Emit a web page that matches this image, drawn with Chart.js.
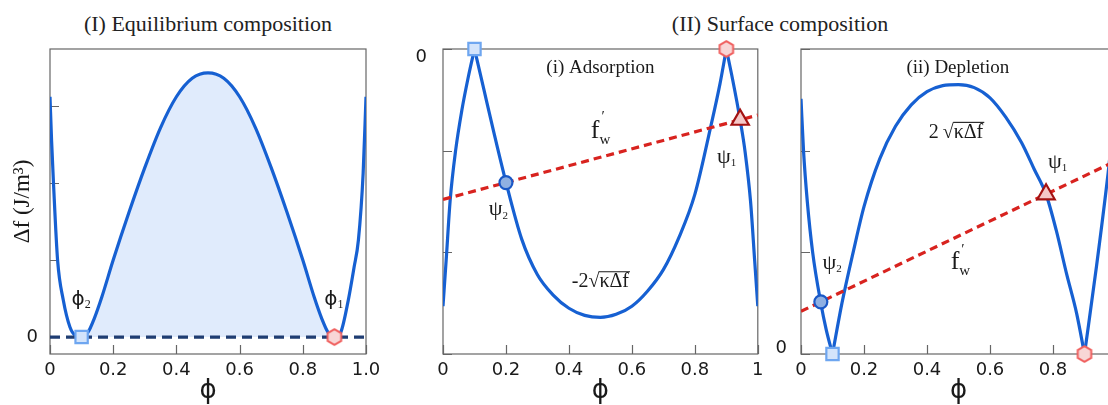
<!DOCTYPE html>
<html>
<head>
<meta charset="utf-8">
<script src="https://cdn.jsdelivr.net/npm/chart.js@4.4.0/dist/chart.umd.min.js"></script>
<style>
  html, body { margin: 0; padding: 0; background: #fff; width: 1108px; height: 405px; overflow: hidden; position: relative; }
  canvas { position: absolute; top: 0; }
  .title { position: absolute; top: 11px; font: 22px "Liberation Serif", serif; color: #222; white-space: nowrap; transform: translateX(-50%); }
</style>
</head>
<body>
<div class="title" style="left:208px">(I) Equilibrium composition</div>
<div class="title" style="left:780px">(II) Surface composition</div>
<canvas id="eq" style="left:0" width="380" height="405"></canvas>
<canvas id="ads" style="left:390px" width="380" height="405"></canvas>
<canvas id="dep" style="left:770px" width="360" height="405"></canvas>
<script>
// tick values and labels
var phiTicks = [0, 0.2, 0.4, 0.6, 0.8, 1.0];
var eqTickLabels = ['0', '0.2', '0.4', '0.6', '0.8', '1.0'];
var surfTickLabels = ['0', '0.2', '0.4', '0.6', '0.8', '1'];
var eqYTicks = [0, 1, 2, 3];
var adsYTicks = [-3, -2, -1, 0];
var depYTicks = [0, 1, 2, 3];

// (I) bulk free energy
var eqPhi = [0, 0.005, 0.011, 0.024, 0.042, 0.063, 0.08, 0.1, 0.12, 0.14, 0.164, 0.2, 0.25, 0.3, 0.35, 0.4, 0.45, 0.5,
             0.55, 0.6, 0.65, 0.7, 0.75, 0.8, 0.836, 0.86, 0.88, 0.9, 0.92, 0.944, 0.962, 0.976, 0.991, 1.0];
var eqDf  = [3.12, 2.55, 2.0, 1.0, 0.48, 0.13, 0.02, 0, 0.06, 0.24, 0.52, 1.0, 1.62, 2.2, 2.72, 3.12, 3.36, 3.43,
             3.36, 3.12, 2.72, 2.2, 1.62, 1.0, 0.52, 0.24, 0.06, 0, 0.06, 0.48, 0.9, 1.26, 2.13, 3.12];
var eqZero = [0, 0];
var eqPoints = [0.1, 0.9];

// (II)(i) adsorption: -2 sqrt(k df), three branches
var adsPhiL = [0, 0.01, 0.023, 0.04, 0.06, 0.08, 0.1];
var adsValL = [-2.53, -2.08, -1.48, -1.0, -0.6, -0.28, 0];
var adsPhiM = [0.1, 0.13, 0.16, 0.2, 0.25, 0.3, 0.35, 0.4, 0.45, 0.5, 0.55, 0.6, 0.65, 0.7, 0.75, 0.8, 0.85, 0.88, 0.9];
var adsValM = [0, -0.4, -0.8, -1.31, -1.87, -2.22, -2.42, -2.55, -2.62, -2.64, -2.61, -2.53, -2.38, -2.17, -1.85, -1.43, -0.77, -0.34, 0];
var adsPhiR = [0.9, 0.92, 0.944, 0.96, 0.977, 0.99, 1.0];
var adsValR = [0, -0.3, -0.7, -1.02, -1.5, -2.08, -2.53];
var fwPhi = [0, 1];
var adsFw = [-1.48, -0.65];
var adsPsi1 = [0.944, -0.696];
var adsPsi2 = [0.2, -1.314];

// (II)(ii) depletion: 2 sqrt(k df)
var depPhiL = [0, 0.008, 0.02, 0.037, 0.063, 0.08, 0.1];
var depValL = [2.51, 2.0, 1.5, 1.0, 0.5, 0.24, 0];
var depPhiM = [0.1, 0.13, 0.167, 0.2, 0.25, 0.3, 0.35, 0.4, 0.45, 0.5, 0.55, 0.6, 0.65, 0.7, 0.74, 0.778, 0.81, 0.843, 0.875, 0.9];
var depValM = [0, 0.5, 1.02, 1.45, 1.92, 2.24, 2.45, 2.58, 2.64, 2.65, 2.62, 2.52, 2.33, 2.08, 1.82, 1.57, 1.22, 0.79, 0.4, 0];
var depPhiR = [0.9, 0.938, 0.975, 1.0];
var depValR = [0, 0.86, 1.78, 2.5];
var depFw = [0.42, 1.9];
var depPsi1 = [0.778, 1.571];
var depPsi2 = [0.063, 0.513];

var BLUE = '#1660d2', RED = '#d8231f', NAVY = '#1f3d72';
var SERIF = '"Liberation Serif", serif';

Chart.defaults.font.family = '"DejaVu Sans", sans-serif';
Chart.defaults.color = '#1a1a1a';

function pts(xs, ys) {
  return xs.map(function (x, i) { return { x: x, y: ys[i] }; });
}

function hexagon(r, fill, stroke) {
  var c = document.createElement('canvas');
  c.width = c.height = Math.ceil(2 * r + 4);
  var g = c.getContext('2d'), m = c.width / 2;
  g.beginPath();
  for (var k = 0; k < 6; k++) {
    var a = -Math.PI / 2 + k * Math.PI / 3;
    g.lineTo(m + r * Math.cos(a), m + r * Math.sin(a));
  }
  g.closePath();
  g.fillStyle = fill; g.fill();
  g.lineWidth = 2; g.strokeStyle = stroke; g.stroke();
  return c;
}
var HEX = hexagon(7.8, '#f8d6d6', '#f0605f');

function curve(xs, ys) {
  return { data: pts(xs, ys), borderColor: BLUE, borderWidth: 3.2, pointRadius: 0,
           cubicInterpolationMode: 'monotone', fill: false, order: 3 };
}
function dashed(xs, ys, color, dash) {
  return { data: pts(xs, ys), borderColor: color, borderWidth: 3.2, borderDash: dash,
           pointRadius: 0, fill: false, order: 2 };
}
function marker(x, y, style, r, fill, stroke) {
  return { data: [{ x: x, y: y }], showLine: false, pointStyle: style, pointRadius: r,
           pointBackgroundColor: fill, pointBorderColor: stroke, pointBorderWidth: 2.2,
           clip: false, order: 1 };
}

// frame and inward tick marks
var frame = {
  id: 'frame',
  beforeDatasetsDraw: function (chart) {
    var ctx = chart.ctx, a = chart.chartArea, sx = chart.scales.x, sy = chart.scales.y;
    ctx.save();
    ctx.strokeStyle = '#666'; ctx.lineWidth = 1.2;
    ctx.strokeRect(a.left, a.top, a.right - a.left, a.bottom - a.top);
    ctx.beginPath();
    sx.ticks.forEach(function (t) {
      var p = Math.round(sx.getPixelForValue(t.value)) + 0.5;
      ctx.moveTo(p, a.bottom); ctx.lineTo(p, a.bottom - 9);
    });
    sy.ticks.forEach(function (t) {
      var p = Math.round(sy.getPixelForValue(t.value)) + 0.5;
      ctx.moveTo(a.left, p); ctx.lineTo(a.left + 9, p);
    });
    ctx.stroke();
    ctx.restore();
  }
};

// text notes placed through the scales
function drawNote(ctx, px, py, n) {
  ctx.save();
  ctx.fillStyle = '#1a1a1a';
  ctx.textBaseline = 'middle';
  if (n.kind === 'text') {
    ctx.font = n.font; ctx.textAlign = 'center';
    ctx.fillText(n.text, px, py);
  } else if (n.kind === 'sym') {
    ctx.font = n.font; ctx.textAlign = 'center';
    ctx.fillText(n.text, px, py);
    var w = ctx.measureText(n.text).width;
    ctx.textAlign = 'left';
    ctx.font = n.small;
    if (n.sub) ctx.fillText(n.sub, px + w / 2, py + n.subDy);
    if (n.sup) ctx.fillText(n.sup, px + w / 2 + 2, py + n.supDy);
  } else if (n.kind === 'root') {
    ctx.font = n.font; ctx.textAlign = 'left';
    var head = n.head + '\u221A';
    var wh = ctx.measureText(head).width, wr = ctx.measureText(n.body).width;
    var x0 = px - (wh + wr) / 2;
    ctx.fillText(head, x0, py);
    ctx.fillText(n.body, x0 + wh, py);
    ctx.strokeStyle = '#1a1a1a'; ctx.lineWidth = 1.1;
    ctx.beginPath();
    ctx.moveTo(x0 + wh - 0.5, py - n.bar); ctx.lineTo(x0 + wh + wr + 1, py - n.bar);
    ctx.stroke();
  }
  ctx.restore();
}
var notes = {
  id: 'notes',
  afterDatasetsDraw: function (chart, args, opts) {
    var sx = chart.scales.x, sy = chart.scales.y;
    (opts.items || []).forEach(function (n) {
      drawNote(chart.ctx, sx.getPixelForValue(n.at[0]), sy.getPixelForValue(n.at[1]), n);
    });
  }
};

function makeChart(id, datasets, o) {
  return new Chart(document.getElementById(id), {
    type: 'line',
    data: { datasets: datasets },
    plugins: [frame, notes],
    options: {
      responsive: false, animation: false, devicePixelRatio: 1,
      layout: { padding: { top: 49, right: o.padRight, left: 0, bottom: 0 } },
      plugins: { legend: { display: false }, tooltip: { enabled: false }, notes: { items: o.notes } },
      scales: {
        x: {
          type: 'linear', min: 0, max: 1,
          grid: { display: false, drawTicks: false }, border: { display: false },
          afterBuildTicks: function (s) { s.ticks = phiTicks.map(function (v) { return { value: v }; }); },
          afterFit: function (s) { s.height = 51; s.paddingLeft = 0; s.paddingRight = 0; },
          ticks: { padding: 6, font: { size: 18 }, color: '#1a1a1a',
                   callback: function (v, i) { return o.xLabels[i]; } },
          title: { display: true, text: '\u03D5', font: { size: 26 }, padding: { top: 0, bottom: -2 } }
        },
        y: {
          type: 'linear', min: o.yMin, max: o.yMax,
          grid: { display: false, drawTicks: false }, border: { display: false },
          afterBuildTicks: function (s) { s.ticks = o.yTicks.map(function (v) { return { value: v }; }); },
          afterFit: function (s) { s.width = o.yWidth; s.paddingTop = 0; s.paddingBottom = 0; },
          ticks: { padding: o.yPad, labelOffset: o.yLabelOffset, font: { size: 18 }, color: '#1a1a1a',
                   callback: function (v) { return v === 0 ? '0' : ''; } },
          title: o.yTitle ? { display: true, text: o.yTitle, font: { family: SERIF, size: 23 }, padding: { top: 9, bottom: 0 } } : { display: false }
        }
      }
    }
  });
}

var eqFill = curve(eqPhi.filter(function (p) { return p >= 0.1 && p <= 0.9; }),
                   eqDf.filter(function (v, i) { return eqPhi[i] >= 0.1 && eqPhi[i] <= 0.9; }));
eqFill.borderWidth = 0; eqFill.borderColor = 'rgba(0,0,0,0)';
eqFill.fill = 'origin'; eqFill.backgroundColor = '#e0ebfc'; eqFill.order = 5;

makeChart('eq', [
  eqFill,
  curve(eqPhi, eqDf),
  dashed(fwPhi, eqZero, NAVY, [10, 6]),
  marker(eqPoints[0], 0, 'rect', 8.7, '#d3e4fb', '#6ea6f0'),
  marker(eqPoints[1], 0, HEX, 8, '#f8d6d6', '#f0605f')
], {
  padRight: 14, yWidth: 50, yPad: 12, yLabelOffset: 0, yMin: -0.22, yMax: 3.74, yTicks: eqYTicks,
  xLabels: eqTickLabels, yTitle: 'Δf (J/m³)',
  notes: [
    { kind: 'sym', at: [0.089, 0.48], text: '\u03D5', font: '20px "DejaVu Sans"', small: '12px ' + SERIF, sub: '2', subDy: 5 },
    { kind: 'sym', at: [0.889, 0.48], text: '\u03D5', font: '20px "DejaVu Sans"', small: '12px ' + SERIF, sub: '1', subDy: 5 }
  ]
});

makeChart('ads', [
  curve(adsPhiL, adsValL),
  curve(adsPhiM, adsValM),
  curve(adsPhiR, adsValR),
  dashed(fwPhi, adsFw, RED, [8, 5]),
  marker(eqPoints[0], 0, 'rect', 8.7, '#d3e4fb', '#6ea6f0'),
  marker(eqPoints[1], 0, HEX, 8, '#f8d6d6', '#f0605f'),
  marker(adsPsi2[0], adsPsi2[1], 'circle', 6.5, '#8fb0e2', '#1a58c6'),
  marker(adsPsi1[0], adsPsi1[1], 'triangle', 10, '#f5c8c8', '#a31212')
], {
  padRight: 11, yWidth: 53, yPad: 16, yLabelOffset: 8, yMin: -3, yMax: 0, yTicks: adsYTicks,
  xLabels: surfTickLabels,
  notes: [
    { kind: 'text', at: [0.5, -0.186], text: '(i) Adsorption', font: '19px ' + SERIF },
    { kind: 'sym', at: [0.483, -0.81], text: 'f', font: '26px ' + SERIF, small: '15px ' + SERIF, sub: 'w', subDy: 9, sup: '\u2032', supDy: -14 },
    { kind: 'sym', at: [0.892, -1.06], text: '\u03C8', font: '22px ' + SERIF, small: '11px ' + SERIF, sub: '1', subDy: 6 },
    { kind: 'sym', at: [0.167, -1.58], text: '\u03C8', font: '22px ' + SERIF, small: '11px ' + SERIF, sub: '2', subDy: 6 },
    { kind: 'root', at: [0.5, -2.29], head: '-2', body: 'κΔf', font: '20px ' + SERIF, bar: 10 }
  ]
});

makeChart('dep', [
  curve(depPhiL, depValL),
  curve(depPhiM, depValM),
  curve(depPhiR, depValR),
  dashed(fwPhi, depFw, RED, [8, 5]),
  marker(eqPoints[0], 0, 'rect', 8.7, '#d3e4fb', '#6ea6f0'),
  marker(eqPoints[1], 0, HEX, 8, '#f8d6d6', '#f0605f'),
  marker(depPsi2[0], depPsi2[1], 'circle', 6.5, '#8fb0e2', '#1a58c6'),
  marker(depPsi1[0], depPsi1[1], 'triangle', 10, '#f5c8c8', '#a31212')
], {
  padRight: 14, yWidth: 31, yPad: 14, yLabelOffset: -6, yMin: 0, yMax: 3, yTicks: depYTicks,
  xLabels: surfTickLabels,
  notes: [
    { kind: 'text', at: [0.498, 2.81], text: '(ii) Depletion', font: '19px ' + SERIF },
    { kind: 'root', at: [0.492, 2.18], head: '2\u2009', body: 'κΔf', font: '20px ' + SERIF, bar: 10 },
    { kind: 'sym', at: [0.806, 1.89], text: '\u03C8', font: '22px ' + SERIF, small: '11px ' + SERIF, sub: '1', subDy: 6 },
    { kind: 'sym', at: [0.09, 0.89], text: '\u03C8', font: '22px ' + SERIF, small: '11px ' + SERIF, sub: '2', subDy: 6 },
    { kind: 'sym', at: [0.489, 0.9], text: 'f', font: '26px ' + SERIF, small: '15px ' + SERIF, sub: 'w', subDy: 9, sup: '\u2032', supDy: -12 }
  ]
});
</script>
</body>
</html>
